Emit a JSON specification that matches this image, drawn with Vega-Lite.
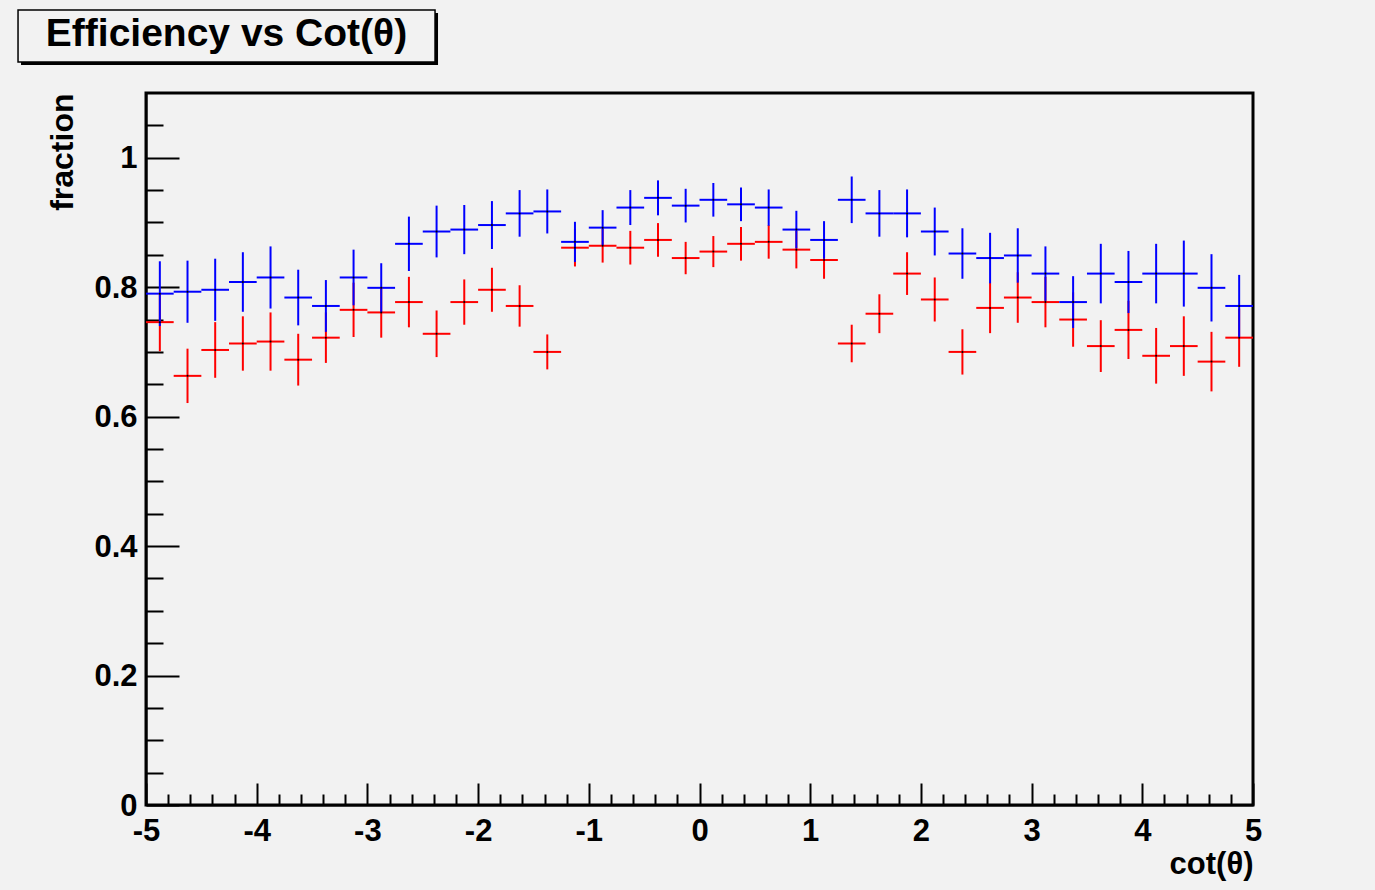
{
  "$schema": "https://vega.github.io/schema/vega-lite/v6.json",
  "width": 1107,
  "height": 712,
  "autosize": "none",
  "padding": {"left": 146, "top": 93, "right": 122, "bottom": 85},
  "background": "#f2f2f2",
  "config": {
    "view": {"stroke": "#000000", "strokeWidth": 3, "fill": null},
    "axis": {
      "labelFont": "Liberation Sans", "labelFontWeight": "bold", "labelFontSize": 31, "labelColor": "#000000",
      "titleFont": "Liberation Sans", "titleFontWeight": "bold", "titleFontSize": 32, "titleColor": "#000000",
      "domainColor": "#000000", "domainWidth": 2, "tickColor": "#000000", "tickWidth": 2, "grid": false
    }
  },
  "datasets": {
    "eff": [
      {"hist": "eff2", "lo": -5, "mid": -4.875, "hi": -4.75, "eff": 0.746, "err": 0.045},
      {"hist": "eff2", "lo": -4.75, "mid": -4.625, "hi": -4.5, "eff": 0.663, "err": 0.042},
      {"hist": "eff2", "lo": -4.5, "mid": -4.375, "hi": -4.25, "eff": 0.703, "err": 0.043},
      {"hist": "eff2", "lo": -4.25, "mid": -4.125, "hi": -4, "eff": 0.713, "err": 0.042},
      {"hist": "eff2", "lo": -4, "mid": -3.875, "hi": -3.75, "eff": 0.716, "err": 0.045},
      {"hist": "eff2", "lo": -3.75, "mid": -3.625, "hi": -3.5, "eff": 0.688, "err": 0.040},
      {"hist": "eff2", "lo": -3.5, "mid": -3.375, "hi": -3.25, "eff": 0.722, "err": 0.039},
      {"hist": "eff2", "lo": -3.25, "mid": -3.125, "hi": -3, "eff": 0.765, "err": 0.042},
      {"hist": "eff2", "lo": -3, "mid": -2.875, "hi": -2.75, "eff": 0.761, "err": 0.039},
      {"hist": "eff2", "lo": -2.75, "mid": -2.625, "hi": -2.5, "eff": 0.777, "err": 0.039},
      {"hist": "eff2", "lo": -2.5, "mid": -2.375, "hi": -2.25, "eff": 0.728, "err": 0.036},
      {"hist": "eff2", "lo": -2.25, "mid": -2.125, "hi": -2, "eff": 0.777, "err": 0.035},
      {"hist": "eff2", "lo": -2, "mid": -1.875, "hi": -1.75, "eff": 0.796, "err": 0.034},
      {"hist": "eff2", "lo": -1.75, "mid": -1.625, "hi": -1.5, "eff": 0.771, "err": 0.032},
      {"hist": "eff2", "lo": -1.5, "mid": -1.375, "hi": -1.25, "eff": 0.700, "err": 0.027},
      {"hist": "eff2", "lo": -1.25, "mid": -1.125, "hi": -1, "eff": 0.861, "err": 0.029},
      {"hist": "eff2", "lo": -1, "mid": -0.875, "hi": -0.75, "eff": 0.864, "err": 0.026},
      {"hist": "eff2", "lo": -0.75, "mid": -0.625, "hi": -0.5, "eff": 0.861, "err": 0.026},
      {"hist": "eff2", "lo": -0.5, "mid": -0.375, "hi": -0.25, "eff": 0.873, "err": 0.026},
      {"hist": "eff2", "lo": -0.25, "mid": -0.125, "hi": 0, "eff": 0.845, "err": 0.025},
      {"hist": "eff2", "lo": 0, "mid": 0.125, "hi": 0.25, "eff": 0.855, "err": 0.024},
      {"hist": "eff2", "lo": 0.25, "mid": 0.375, "hi": 0.5, "eff": 0.867, "err": 0.026},
      {"hist": "eff2", "lo": 0.5, "mid": 0.625, "hi": 0.75, "eff": 0.870, "err": 0.026},
      {"hist": "eff2", "lo": 0.75, "mid": 0.875, "hi": 1, "eff": 0.858, "err": 0.029},
      {"hist": "eff2", "lo": 1, "mid": 1.125, "hi": 1.25, "eff": 0.842, "err": 0.029},
      {"hist": "eff2", "lo": 1.25, "mid": 1.375, "hi": 1.5, "eff": 0.713, "err": 0.029},
      {"hist": "eff2", "lo": 1.5, "mid": 1.625, "hi": 1.75, "eff": 0.759, "err": 0.030},
      {"hist": "eff2", "lo": 1.75, "mid": 1.875, "hi": 2, "eff": 0.821, "err": 0.033},
      {"hist": "eff2", "lo": 2, "mid": 2.125, "hi": 2.25, "eff": 0.781, "err": 0.034},
      {"hist": "eff2", "lo": 2.25, "mid": 2.375, "hi": 2.5, "eff": 0.700, "err": 0.035},
      {"hist": "eff2", "lo": 2.5, "mid": 2.625, "hi": 2.75, "eff": 0.768, "err": 0.039},
      {"hist": "eff2", "lo": 2.75, "mid": 2.875, "hi": 3, "eff": 0.784, "err": 0.039},
      {"hist": "eff2", "lo": 3, "mid": 3.125, "hi": 3.25, "eff": 0.777, "err": 0.039},
      {"hist": "eff2", "lo": 3.25, "mid": 3.375, "hi": 3.5, "eff": 0.750, "err": 0.042},
      {"hist": "eff2", "lo": 3.5, "mid": 3.625, "hi": 3.75, "eff": 0.709, "err": 0.040},
      {"hist": "eff2", "lo": 3.75, "mid": 3.875, "hi": 4, "eff": 0.734, "err": 0.045},
      {"hist": "eff2", "lo": 4, "mid": 4.125, "hi": 4.25, "eff": 0.694, "err": 0.043},
      {"hist": "eff2", "lo": 4.25, "mid": 4.375, "hi": 4.5, "eff": 0.709, "err": 0.046},
      {"hist": "eff2", "lo": 4.5, "mid": 4.625, "hi": 4.75, "eff": 0.685, "err": 0.046},
      {"hist": "eff2", "lo": 4.75, "mid": 4.875, "hi": 5, "eff": 0.722, "err": 0.045},
      {"hist": "eff1", "lo": -5, "mid": -4.875, "hi": -4.75, "eff": 0.790, "err": 0.050},
      {"hist": "eff1", "lo": -4.75, "mid": -4.625, "hi": -4.5, "eff": 0.793, "err": 0.048},
      {"hist": "eff1", "lo": -4.5, "mid": -4.375, "hi": -4.25, "eff": 0.796, "err": 0.048},
      {"hist": "eff1", "lo": -4.25, "mid": -4.125, "hi": -4, "eff": 0.808, "err": 0.046},
      {"hist": "eff1", "lo": -4, "mid": -3.875, "hi": -3.75, "eff": 0.815, "err": 0.048},
      {"hist": "eff1", "lo": -3.75, "mid": -3.625, "hi": -3.5, "eff": 0.784, "err": 0.043},
      {"hist": "eff1", "lo": -3.5, "mid": -3.375, "hi": -3.25, "eff": 0.771, "err": 0.040},
      {"hist": "eff1", "lo": -3.25, "mid": -3.125, "hi": -3, "eff": 0.815, "err": 0.043},
      {"hist": "eff1", "lo": -3, "mid": -2.875, "hi": -2.75, "eff": 0.799, "err": 0.038},
      {"hist": "eff1", "lo": -2.75, "mid": -2.625, "hi": -2.5, "eff": 0.867, "err": 0.042},
      {"hist": "eff1", "lo": -2.5, "mid": -2.375, "hi": -2.25, "eff": 0.886, "err": 0.040},
      {"hist": "eff1", "lo": -2.25, "mid": -2.125, "hi": -2, "eff": 0.889, "err": 0.038},
      {"hist": "eff1", "lo": -2, "mid": -1.875, "hi": -1.75, "eff": 0.896, "err": 0.037},
      {"hist": "eff1", "lo": -1.75, "mid": -1.625, "hi": -1.5, "eff": 0.914, "err": 0.036},
      {"hist": "eff1", "lo": -1.5, "mid": -1.375, "hi": -1.25, "eff": 0.917, "err": 0.034},
      {"hist": "eff1", "lo": -1.25, "mid": -1.125, "hi": -1, "eff": 0.870, "err": 0.031},
      {"hist": "eff1", "lo": -1, "mid": -0.875, "hi": -0.75, "eff": 0.892, "err": 0.027},
      {"hist": "eff1", "lo": -0.75, "mid": -0.625, "hi": -0.5, "eff": 0.923, "err": 0.027},
      {"hist": "eff1", "lo": -0.5, "mid": -0.375, "hi": -0.25, "eff": 0.938, "err": 0.027},
      {"hist": "eff1", "lo": -0.25, "mid": -0.125, "hi": 0, "eff": 0.926, "err": 0.026},
      {"hist": "eff1", "lo": 0, "mid": 0.125, "hi": 0.25, "eff": 0.935, "err": 0.026},
      {"hist": "eff1", "lo": 0.25, "mid": 0.375, "hi": 0.5, "eff": 0.928, "err": 0.026},
      {"hist": "eff1", "lo": 0.5, "mid": 0.625, "hi": 0.75, "eff": 0.923, "err": 0.028},
      {"hist": "eff1", "lo": 0.75, "mid": 0.875, "hi": 1, "eff": 0.889, "err": 0.029},
      {"hist": "eff1", "lo": 1, "mid": 1.125, "hi": 1.25, "eff": 0.873, "err": 0.029},
      {"hist": "eff1", "lo": 1.25, "mid": 1.375, "hi": 1.5, "eff": 0.935, "err": 0.036},
      {"hist": "eff1", "lo": 1.5, "mid": 1.625, "hi": 1.75, "eff": 0.914, "err": 0.036},
      {"hist": "eff1", "lo": 1.75, "mid": 1.875, "hi": 2, "eff": 0.914, "err": 0.037},
      {"hist": "eff1", "lo": 2, "mid": 2.125, "hi": 2.25, "eff": 0.886, "err": 0.037},
      {"hist": "eff1", "lo": 2.25, "mid": 2.375, "hi": 2.5, "eff": 0.852, "err": 0.039},
      {"hist": "eff1", "lo": 2.5, "mid": 2.625, "hi": 2.75, "eff": 0.845, "err": 0.039},
      {"hist": "eff1", "lo": 2.75, "mid": 2.875, "hi": 3, "eff": 0.849, "err": 0.042},
      {"hist": "eff1", "lo": 3, "mid": 3.125, "hi": 3.25, "eff": 0.821, "err": 0.042},
      {"hist": "eff1", "lo": 3.25, "mid": 3.375, "hi": 3.5, "eff": 0.777, "err": 0.040},
      {"hist": "eff1", "lo": 3.5, "mid": 3.625, "hi": 3.75, "eff": 0.821, "err": 0.046},
      {"hist": "eff1", "lo": 3.75, "mid": 3.875, "hi": 4, "eff": 0.808, "err": 0.048},
      {"hist": "eff1", "lo": 4, "mid": 4.125, "hi": 4.25, "eff": 0.821, "err": 0.046},
      {"hist": "eff1", "lo": 4.25, "mid": 4.375, "hi": 4.5, "eff": 0.821, "err": 0.051},
      {"hist": "eff1", "lo": 4.5, "mid": 4.625, "hi": 4.75, "eff": 0.799, "err": 0.052},
      {"hist": "eff1", "lo": 4.75, "mid": 4.875, "hi": 5, "eff": 0.771, "err": 0.048}
    ],
    "heading": [{"title": "Efficiency vs Cot(θ)"}]
  },
  "layer": [
    {
      "data": {"name": "heading"},
      "mark": {"type": "rect", "color": "#000000"},
      "encoding": {
        "x": {"datum": -6.129, "type": "quantitative", "axis": null},
        "x2": {"datum": -2.362},
        "y": {"datum": 1.2236, "type": "quantitative", "axis": null},
        "y2": {"datum": 1.1433}
      }
    },
    {
      "data": {"name": "heading"},
      "mark": {"type": "rect", "fill": "#f2f2f2", "stroke": "#000000", "strokeWidth": 1.5},
      "encoding": {
        "x": {"datum": -6.156, "type": "quantitative", "axis": null},
        "x2": {"datum": -2.389},
        "y": {"datum": 1.2283, "type": "quantitative", "axis": null},
        "y2": {"datum": 1.1479}
      }
    },
    {
      "data": {"name": "heading"},
      "mark": {"type": "text", "font": "Liberation Sans", "fontWeight": "bold", "fontSize": 39, "align": "center", "baseline": "alphabetic", "color": "#000000"},
      "encoding": {
        "x": {"datum": -4.273, "type": "quantitative", "axis": null},
        "y": {"datum": 1.1726, "type": "quantitative", "axis": null},
        "text": {"field": "title"}
      }
    },
    {
      "data": {"name": "eff"},
      "mark": {"type": "rule", "strokeWidth": 2},
      "encoding": {
        "x": {
          "field": "lo", "type": "quantitative",
          "scale": {"domain": [-5, 5], "nice": false, "zero": false},
          "axis": {
            "orient": "bottom", "values": [-5, -4, -3, -2, -1, 0, 1, 2, 3, 4, 5],
            "tickSize": -22, "labelPadding": 33, "labelExpr": "datum.value + ''",
            "labelAlign": "center", "labelBaseline": "top", "labelFlush": false, "labelOverlap": false,
            "title": "cot(θ)", "titleX": 1107, "titleY": 68, "titleAlign": "right", "titleBaseline": "alphabetic", "titleFontSize": 31
          }
        },
        "x2": {"field": "hi"},
        "y": {
          "field": "eff", "type": "quantitative",
          "scale": {"domain": [0, 1.1], "nice": false, "zero": false},
          "axis": {
            "orient": "left", "values": [0, 0.2, 0.4, 0.6, 0.8, 1],
            "tickSize": -33, "labelPadding": 42, "labelExpr": "datum.value + ''",
            "labelAlign": "right", "labelBaseline": "middle", "labelOffset": 1, "labelFlush": false, "labelOverlap": false,
            "title": "fraction", "titleX": -74, "titleY": 0, "titleAngle": 270, "titleAlign": "right", "titleBaseline": "alphabetic"
          }
        },
        "color": {"field": "hist", "type": "nominal", "scale": {"domain": ["eff2", "eff1"], "range": ["#ff0000", "#0000ff"]}, "legend": null}
      }
    },
    {
      "data": {"name": "eff"},
      "mark": {"type": "errorbar", "thickness": 2},
      "encoding": {
        "x": {"field": "mid", "type": "quantitative", "axis": null},
        "y": {"field": "eff", "type": "quantitative", "axis": null},
        "yError": {"field": "err"},
        "color": {"field": "hist", "type": "nominal", "scale": {"domain": ["eff2", "eff1"], "range": ["#ff0000", "#0000ff"]}, "legend": null}
      }
    },
    {
      "data": {"name": "eff"},
      "mark": {"type": "point", "filled": true, "size": 4, "color": "#000000", "opacity": 1},
      "encoding": {
        "x": {
          "field": "mid", "type": "quantitative",
          "axis": {
            "orient": "bottom",
            "values": [-4.8, -4.6, -4.4, -4.2, -3.8, -3.6, -3.4, -3.2, -2.8, -2.6, -2.4, -2.2, -1.8, -1.6, -1.4, -1.2, -0.8, -0.6, -0.4, -0.2, 0.2, 0.4, 0.6, 0.8, 1.2, 1.4, 1.6, 1.8, 2.2, 2.4, 2.6, 2.8, 3.2, 3.4, 3.6, 3.8, 4.2, 4.4, 4.6, 4.8],
            "tickSize": -11, "labels": false, "domain": false, "title": null
          }
        },
        "y": {
          "field": "eff", "type": "quantitative",
          "axis": {
            "orient": "left",
            "values": [0.05, 0.1, 0.15, 0.25, 0.3, 0.35, 0.45, 0.5, 0.55, 0.65, 0.7, 0.75, 0.85, 0.9, 0.95, 1.05],
            "tickSize": -17, "labels": false, "domain": false, "title": null
          }
        }
      }
    }
  ],
  "resolve": {"axis": {"x": "independent", "y": "independent"}}
}
